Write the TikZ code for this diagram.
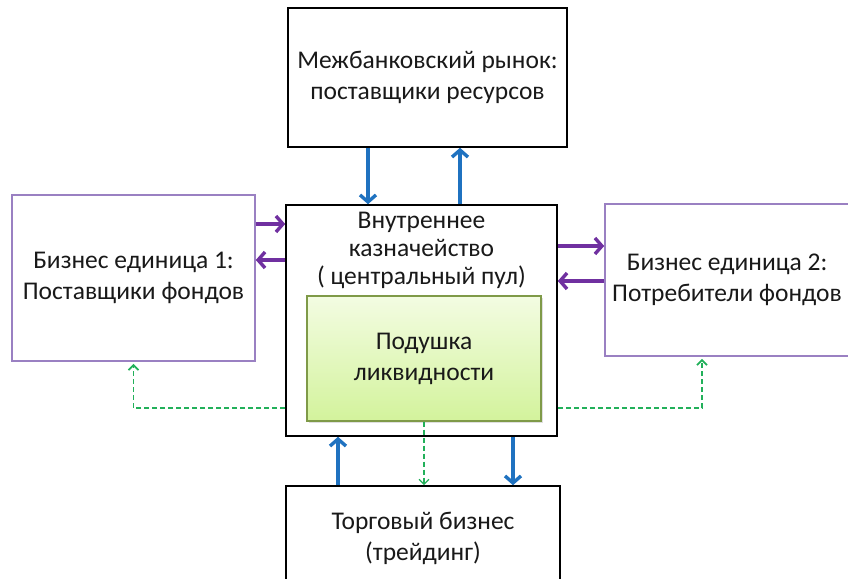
\documentclass[tikz,border=0pt]{standalone}
\usepackage{fontspec}
\setmainfont{Carlito}
\usetikzlibrary{arrows.meta,shadows}

\definecolor{flowblue}{HTML}{1F72C0}
\definecolor{flowpurple}{HTML}{7030A0}
\definecolor{unitpurple}{HTML}{9A80C2}
\definecolor{dashgreen}{HTML}{22B05A}
\definecolor{poolborder}{HTML}{7F9A48}
\definecolor{pooltop}{HTML}{F3FCE2}
\definecolor{poolbottom}{HTML}{D3F39C}

\tikzset{
  box/.style={draw=black,line width=1.6pt,fill=white,align=center,
    font=\fontsize{25.5}{31}\selectfont,text=black!90},
  unitbox/.style={box,draw=unitpurple},
  poolbox/.style={draw=poolborder,line width=1.2pt,align=center,
    top color=pooltop,bottom color=poolbottom,
    drop shadow={shadow xshift=2pt,shadow yshift=-2pt,opacity=0.25},
    font=\fontsize{25.5}{31}\selectfont,text=black!90},
  blueflow/.style={flowblue,line width=3.4pt,-{Straight Barb[length=7pt,width=16pt]}},
  purpleflow/.style={flowpurple,line width=3.4pt,-{Straight Barb[length=7pt,width=16pt]}},
  dashflow/.style={dashgreen,line width=1.8pt,dashed,dash pattern=on 5pt off 3pt,
    -{Straight Barb[length=5pt,width=10pt]}}
}

\begin{document}
\begin{tikzpicture}[x=1pt,y=-1pt]
\useasboundingbox (0,0) rectangle (848,578);

% boxes
\node[box,minimum width=279pt,minimum height=139pt] (market) at (427.5,77.5)
  {Межбанковский рынок:\\поставщики ресурсов};
\node[box,minimum width=271pt,minimum height=231pt] (treasury) at (421.5,320.5) {};
\node[align=center,anchor=north,font=\fontsize{25.5}{28}\selectfont,text=black!90]
  (treasurytext) at ([yshift=-4pt]treasury.north)
  {Внутреннее\\казначейство\\( центральный пул)};
\node[unitbox,minimum width=243pt,minimum height=166pt] (unitone) at (133.5,278)
  {Бизнес единица 1:\\Поставщики фондов};
\node[unitbox,minimum width=244pt,minimum height=152pt] (unittwo) at (727,280)
  {Бизнес единица 2:\\Потребители фондов};
\node[box,minimum width=274pt,minimum height=104pt] (trade) at (423,538)
  {Торговый бизнес\\(трейдинг)};

% green dashed links (behind the pool)
\draw[dashflow,shorten >=2pt] (treasury.west |- 0,408) -| (unitone.south);
\draw[dashflow,shorten >=2pt] (treasury.east |- 0,408) -| ([xshift=-25pt]unittwo.south);

\node[poolbox,minimum width=234pt,minimum height=125pt] (pool) at (424,358.5)
  {Подушка\\ликвидности};

\draw[dashflow,line width=1.3pt] (pool.south) -- (pool.south |- trade.north);

% blue flows
\draw[blueflow] (market.south -| 368,0) -- (treasury.north -| 368,0);
\draw[blueflow] (treasury.north -| 460,0) -- (market.south -| 460,0);
\draw[blueflow] (trade.north -| 338,0) -- (treasury.south -| 338,0);
\draw[blueflow] (treasury.south -| 513,0) -- (trade.north -| 513,0);

% purple flows
\draw[purpleflow] (unitone.east |- 0,224) -- (treasury.west |- 0,224);
\draw[purpleflow] (treasury.west |- 0,260) -- (unitone.east |- 0,260);
\draw[purpleflow] (treasury.east |- 0,246) -- (unittwo.west |- 0,246);
\draw[purpleflow] (unittwo.west |- 0,281) -- (treasury.east |- 0,281);
\end{tikzpicture}
\end{document}
